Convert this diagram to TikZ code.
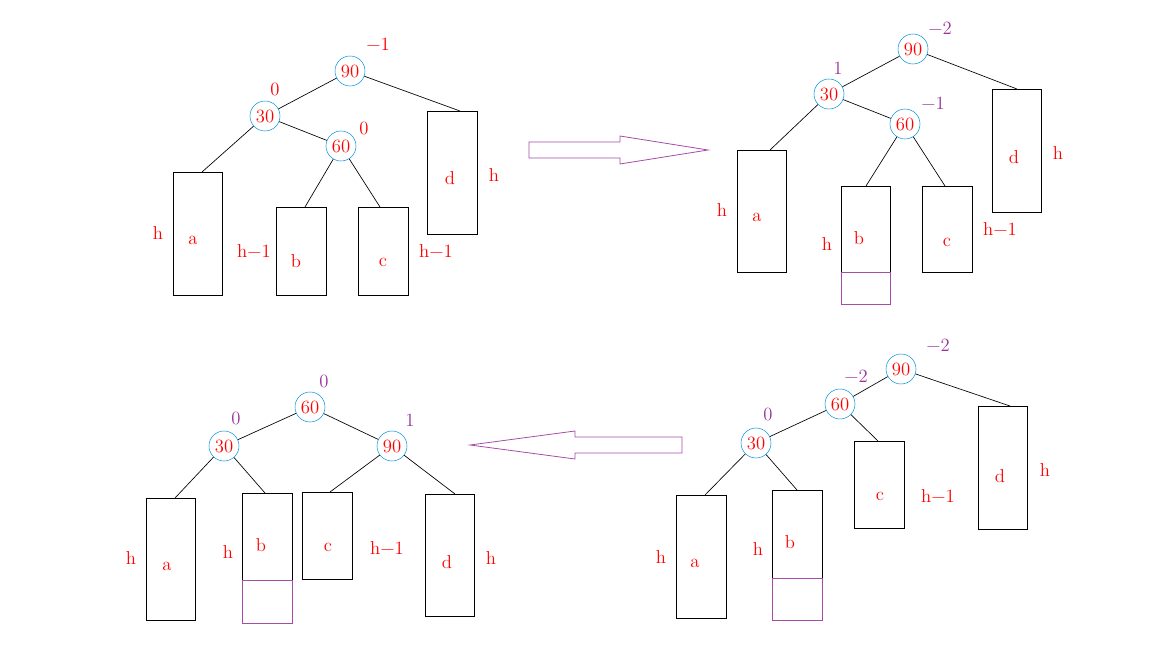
\documentclass[tikz,border=0pt]{standalone}
\begin{document}
\begin{tikzpicture}[x=0.75pt,y=-0.75pt,
 nd/.style={circle,draw=cyan!80!blue,minimum size=22.5pt,inner sep=0pt,text=red,font=\fontsize{14}{14}\selectfont},
 bx/.style={draw=black,line width=0.6pt},
 pb/.style={draw=violet!70,line width=0.6pt},
 lr/.style={text=red,font=\fontsize{14}{14}\selectfont,inner sep=0pt},
 lp/.style={text=violet!80,font=\fontsize{14}{14}\selectfont,inner sep=0pt},
 ed/.style={draw=black,line width=0.5pt},
 arr/.style={draw=violet!70,line width=0.6pt}]
\useasboundingbox (0,0) rectangle (1161,646);
% ---- top-left
\node[nd] (a90) at (350,71) {90}; \node[lr] at (378,44) {−1};
\node[nd] (a30) at (265,116) {30}; \node[lr] at (275,89) {0};
\node[nd] (a60) at (341,146) {60}; \node[lr] at (364,128) {0};
\draw[bx] (173,172) rectangle (222,295); \coordinate (aa) at (202,172);
\draw[bx] (276,207) rectangle (326,295); \coordinate (ab) at (305,207);
\draw[bx] (358,207) rectangle (408,295); \coordinate (ac) at (380,207);
\draw[bx] (427,111) rectangle (477,234); \coordinate (ad) at (460,111);
\node[lr] at (158,233) {h}; \node[lr] at (193,240) {a};
\node[lr] at (296,261) {b}; \node[lr] at (254,251) {h−1};
\node[lr] at (383,262) {c}; \node[lr] at (436,251) {h−1};
\node[lr] at (450,178) {d}; \node[lr] at (494,175) {h};
\draw[ed] (a90)--(a30); \draw[ed] (a90)--(ad); \draw[ed] (a30)--(aa);
\draw[ed] (a30)--(a60); \draw[ed] (a60)--(ab); \draw[ed] (a60)--(ac);
% arrows
\draw[arr] (529,142)--(620,142)--(620,136)--(708,150)--(620,164)--(620,158)--(529,158)--cycle;
\draw[arr] (682,437)--(575,437)--(575,431)--(470,445)--(575,459)--(575,453)--(682,453)--cycle;
% ---- top-right
\node[nd] (b90) at (913,49) {90}; \node[lp] at (940,28) {−2};
\node[nd] (b30) at (829,94) {30}; \node[lp] at (838,68) {1};
\node[nd] (b60) at (905,124) {60}; \node[lp] at (933,103) {−1};
\draw[bx] (737,150) rectangle (786,272); \coordinate (ba) at (770,150);
\draw[bx] (841,186) rectangle (890,272); \coordinate (bb) at (866,186);
\draw[pb] (841,272) rectangle (890,304);
\draw[bx] (922,186) rectangle (972,272); \coordinate (bc) at (945,186);
\draw[bx] (992,89) rectangle (1041,212); \coordinate (bd) at (1017,89);
\node[lr] at (722,210) {h}; \node[lr] at (757,217) {a};
\node[lr] at (859,238) {b}; \node[lr] at (827,244) {h};
\node[lr] at (947,242) {c}; \node[lr] at (1000,229) {h−1};
\node[lr] at (1014,157) {d}; \node[lr] at (1058,153) {h};
\draw[ed] (b90)--(b30); \draw[ed] (b90)--(bd); \draw[ed] (b30)--(ba);
\draw[ed] (b30)--(b60); \draw[ed] (b60)--(bb); \draw[ed] (b60)--(bc);
% ---- bottom-right
\node[nd] (c90) at (901,369) {90}; \node[lp] at (938,345) {−2};
\node[nd] (c60) at (840,404) {60}; \node[lp] at (856,376) {−2};
\node[nd] (c30) at (756,443) {30}; \node[lp] at (768,414) {0};
\draw[bx] (854,441) rectangle (904,528); \coordinate (cc) at (878,441);
\draw[bx] (978,406) rectangle (1027,529); \coordinate (cd) at (1010,406);
\draw[bx] (676,495) rectangle (726,618); \coordinate (ca) at (705,495);
\draw[bx] (772,490) rectangle (822,578); \coordinate (cb) at (797,490);
\draw[pb] (772,578) rectangle (822,620);
\node[lr] at (880,496) {c}; \node[lr] at (938,496) {h−1};
\node[lr] at (1000,476) {d}; \node[lr] at (1045,470) {h};
\node[lr] at (661,557) {h}; \node[lr] at (695,563) {a};
\node[lr] at (790,542) {b}; \node[lr] at (758,549) {h};
\draw[ed] (c90)--(c60); \draw[ed] (c90)--(cd); \draw[ed] (c60)--(c30);
\draw[ed] (c60)--(cc); \draw[ed] (c30)--(ca); \draw[ed] (c30)--(cb);
% ---- bottom-left
\node[nd] (d60) at (310,407) {60}; \node[lp] at (324,381) {0};
\node[nd] (d30) at (224,446) {30}; \node[lp] at (236,418) {0};
\node[nd] (d90) at (392,446) {90}; \node[lp] at (410,420) {1};
\draw[bx] (146,498) rectangle (195,620); \coordinate (da) at (175,498);
\draw[bx] (242,493) rectangle (292,580); \coordinate (db) at (265,493);
\draw[pb] (242,580) rectangle (292,623);
\draw[bx] (302,492) rectangle (352,579); \coordinate (dc) at (330,492);
\draw[bx] (425,494) rectangle (474,616); \coordinate (dd) at (455,494);
\node[lr] at (131,558) {h}; \node[lr] at (167,566) {a};
\node[lr] at (261,545) {b}; \node[lr] at (228,552) {h};
\node[lr] at (328,547) {c}; \node[lr] at (387,548) {h−1};
\node[lr] at (447,562) {d}; \node[lr] at (491,558) {h};
\draw[ed] (d60)--(d30); \draw[ed] (d60)--(d90); \draw[ed] (d30)--(da);
\draw[ed] (d30)--(db); \draw[ed] (d90)--(dc); \draw[ed] (d90)--(dd);
\end{tikzpicture}
\end{document}
